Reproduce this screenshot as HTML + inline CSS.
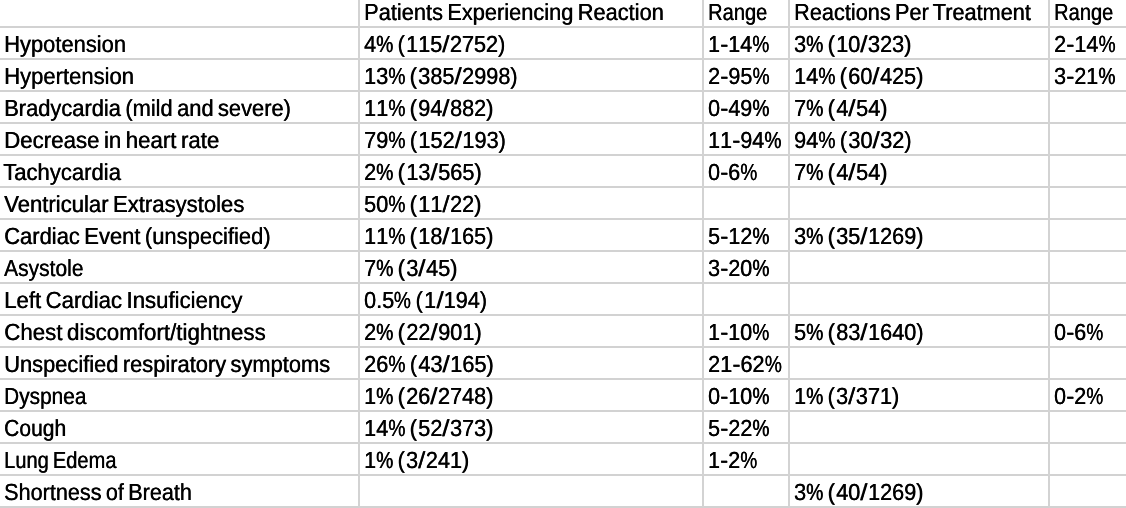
<!DOCTYPE html>
<html lang="en">
<head>
<meta charset="utf-8">
<title>Adverse reactions table</title>
<style>
html,body{margin:0;padding:0;background:#fff;}
body{width:1126px;height:508px;overflow:hidden;position:relative;}
.sheet{position:absolute;left:0;top:-4px;width:1136px;border-collapse:separate;border-spacing:0;table-layout:fixed;
  font-family:"Liberation Sans",Arial,Helvetica,sans-serif;font-size:23.3px;line-height:30px;color:#000;text-rendering:geometricPrecision;-webkit-text-stroke:0.12px #000;text-shadow:0.4px 0 0 #000;}
.sheet td{position:relative;box-sizing:border-box;height:32px;padding:0;border-right:2px solid #d3d3d3;border-bottom:2px solid #d2d2d2;overflow:visible;vertical-align:top;}
.sheet td span.n{font-kerning:none;}
.sheet td span{word-spacing:-1.8px;position:absolute;top:0.75px;white-space:pre;display:block;transform-origin:0 0;}
.sheet td span span{position:static;display:inline-block;transform-origin:0 0;word-spacing:0;}
.sheet .p{transform:scaleX(0.887);margin-right:-2.341px;}
.sheet .s{transform:scaleX(1.2);margin-left:0.250px;margin-right:1.545px;}
.sheet .h{transform:scaleX(1.14);margin-right:1.086px;}
.sheet .o{margin-right:1.400px;}
</style>
</head>
<body>
<table class="sheet">
<colgroup><col style="width:360px"><col style="width:344px"><col style="width:86px"><col style="width:260px"><col style="width:86px"></colgroup>
<tbody>
<tr><td></td><td><span style="left:3.81px;transform:scaleX(0.9359)">Patients Experiencing Reaction</span></td><td><span style="left:3.90px;transform:scaleX(0.8614)">Range</span></td><td><span style="left:4.42px;transform:scaleX(0.9315)">Reactions Per Treatment</span></td><td><span style="left:3.90px;transform:scaleX(0.8614)">Range</span></td></tr>
<tr><td><span style="left:4.00px;transform:scaleX(0.9408)">Hypotension</span></td><td><span class="n" style="left:4.20px;transform:scaleX(0.9287)">4<span class="p">%</span> <span class="o">(</span>115<span class="s">/</span>2752)</span></td><td><span class="n" style="left:3.96px;transform:scaleX(0.9221)">1<span class="h">-</span>14<span class="p">%</span></span></td><td><span class="n" style="left:3.87px;transform:scaleX(0.9302)">3<span class="p">%</span> <span class="o">(</span>10<span class="s">/</span>323)</span></td><td><span class="n" style="left:3.61px;transform:scaleX(0.9274)">2<span class="h">-</span>14<span class="p">%</span></span></td></tr>
<tr><td><span style="left:3.99px;transform:scaleX(0.9459)">Hypertension</span></td><td><span class="n" style="left:3.95px;transform:scaleX(0.9306)">13<span class="p">%</span> <span class="o">(</span>385<span class="s">/</span>2998)</span></td><td><span class="n" style="left:3.61px;transform:scaleX(0.9274)">2<span class="h">-</span>95<span class="p">%</span></span></td><td><span class="n" style="left:3.95px;transform:scaleX(0.9300)">14<span class="p">%</span> <span class="o">(</span>60<span class="s">/</span>425)</span></td><td><span class="n" style="left:3.88px;transform:scaleX(0.9233)">3<span class="h">-</span>21<span class="p">%</span></span></td></tr>
<tr><td><span style="left:4.00px;transform:scaleX(0.9391)">Bradycardia (mild and severe)</span></td><td><span class="n" style="left:3.95px;transform:scaleX(0.9300)">11<span class="p">%</span> <span class="o">(</span>94<span class="s">/</span>882)</span></td><td><span class="n" style="left:3.86px;transform:scaleX(0.9237)">0<span class="h">-</span>49<span class="p">%</span></span></td><td><span class="n" style="left:3.59px;transform:scaleX(0.9322)">7<span class="p">%</span> <span class="o">(</span>4<span class="s">/</span>54)</span></td><td></td></tr>
<tr><td><span style="left:3.97px;transform:scaleX(0.9557)">Decrease in heart rate</span></td><td><span class="n" style="left:3.59px;transform:scaleX(0.9328)">79<span class="p">%</span> <span class="o">(</span>152<span class="s">/</span>193)</span></td><td><span class="n" style="left:3.96px;transform:scaleX(0.9241)">11<span class="h">-</span>94<span class="p">%</span></span></td><td><span class="n" style="left:3.68px;transform:scaleX(0.9318)">94<span class="p">%</span> <span class="o">(</span>30<span class="s">/</span>32)</span></td><td></td></tr>
<tr><td><span style="left:3.20px;transform:scaleX(0.9477)">Tachycardia</span></td><td><span class="n" style="left:3.61px;transform:scaleX(0.9324)">2<span class="p">%</span> <span class="o">(</span>13<span class="s">/</span>565)</span></td><td><span class="n" style="left:3.86px;transform:scaleX(0.9212)">0<span class="h">-</span>6<span class="p">%</span></span></td><td><span class="n" style="left:3.59px;transform:scaleX(0.9322)">7<span class="p">%</span> <span class="o">(</span>4<span class="s">/</span>54)</span></td><td></td></tr>
<tr><td><span style="left:3.80px;transform:scaleX(0.9484)">Ventricular Extrasystoles</span></td><td><span class="n" style="left:3.83px;transform:scaleX(0.9306)">50<span class="p">%</span> <span class="o">(</span>11<span class="s">/</span>22)</span></td><td></td><td></td><td></td></tr>
<tr><td><span style="left:3.98px;transform:scaleX(0.9431)">Cardiac Event (unspecified)</span></td><td><span class="n" style="left:3.95px;transform:scaleX(0.9300)">11<span class="p">%</span> <span class="o">(</span>18<span class="s">/</span>165)</span></td><td><span class="n" style="left:3.84px;transform:scaleX(0.9240)">5<span class="h">-</span>12<span class="p">%</span></span></td><td><span class="n" style="left:3.87px;transform:scaleX(0.9306)">3<span class="p">%</span> <span class="o">(</span>35<span class="s">/</span>1269)</span></td><td></td></tr>
<tr><td><span style="left:3.86px;transform:scaleX(0.9008)">Asystole</span></td><td><span class="n" style="left:3.59px;transform:scaleX(0.9322)">7<span class="p">%</span> <span class="o">(</span>3<span class="s">/</span>45)</span></td><td><span class="n" style="left:3.88px;transform:scaleX(0.9233)">3<span class="h">-</span>20<span class="p">%</span></span></td><td></td><td></td></tr>
<tr><td><span style="left:4.18px;transform:scaleX(0.9524)">Left Cardiac Insuficiency</span></td><td><span class="n" style="left:3.86px;transform:scaleX(0.9272)">0.5<span class="p">%</span> <span class="o">(</span>1<span class="s">/</span>194)</span></td><td></td><td></td><td></td></tr>
<tr><td><span style="left:3.67px;transform:scaleX(0.9591)">Chest discomfort/tightness</span></td><td><span class="n" style="left:3.61px;transform:scaleX(0.9324)">2<span class="p">%</span> <span class="o">(</span>22<span class="s">/</span>901)</span></td><td><span class="n" style="left:3.96px;transform:scaleX(0.9221)">1<span class="h">-</span>10<span class="p">%</span></span></td><td><span class="n" style="left:3.83px;transform:scaleX(0.9309)">5<span class="p">%</span> <span class="o">(</span>83<span class="s">/</span>1640)</span></td><td><span class="n" style="left:3.86px;transform:scaleX(0.9212)">0<span class="h">-</span>6<span class="p">%</span></span></td></tr>
<tr><td><span style="left:4.31px;transform:scaleX(0.9388)">Unspecified respiratory symptoms</span></td><td><span class="n" style="left:3.61px;transform:scaleX(0.9325)">26<span class="p">%</span> <span class="o">(</span>43<span class="s">/</span>165)</span></td><td><span class="n" style="left:3.61px;transform:scaleX(0.9285)">21<span class="h">-</span>62<span class="p">%</span></span></td><td></td><td></td></tr>
<tr><td><span style="left:4.29px;transform:scaleX(0.8945)">Dyspnea</span></td><td><span class="n" style="left:3.95px;transform:scaleX(0.9300)">1<span class="p">%</span> <span class="o">(</span>26<span class="s">/</span>2748)</span></td><td><span class="n" style="left:3.86px;transform:scaleX(0.9237)">0<span class="h">-</span>10<span class="p">%</span></span></td><td><span class="n" style="left:3.95px;transform:scaleX(0.9291)">1<span class="p">%</span> <span class="o">(</span>3<span class="s">/</span>371)</span></td><td><span class="n" style="left:3.86px;transform:scaleX(0.9212)">0<span class="h">-</span>2<span class="p">%</span></span></td></tr>
<tr><td><span style="left:3.73px;transform:scaleX(0.9027)">Cough</span></td><td><span class="n" style="left:3.95px;transform:scaleX(0.9300)">14<span class="p">%</span> <span class="o">(</span>52<span class="s">/</span>373)</span></td><td><span class="n" style="left:3.84px;transform:scaleX(0.9240)">5<span class="h">-</span>22<span class="p">%</span></span></td><td></td><td></td></tr>
<tr><td><span style="left:4.35px;transform:scaleX(0.8617)">Lung Edema</span></td><td><span class="n" style="left:3.95px;transform:scaleX(0.9291)">1<span class="p">%</span> <span class="o">(</span>3<span class="s">/</span>241)</span></td><td><span class="n" style="left:3.97px;transform:scaleX(0.9191)">1<span class="h">-</span>2<span class="p">%</span></span></td><td></td><td></td></tr>
<tr><td><span style="left:4.02px;transform:scaleX(0.9278)">Shortness of Breath</span></td><td></td><td></td><td><span class="n" style="left:3.87px;transform:scaleX(0.9306)">3<span class="p">%</span> <span class="o">(</span>40<span class="s">/</span>1269)</span></td><td></td></tr>
</tbody>
</table>
</body>
</html>
